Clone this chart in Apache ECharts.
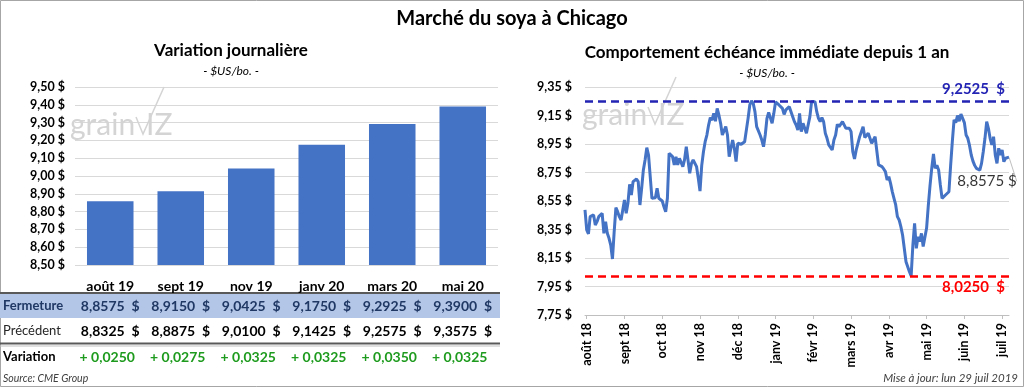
<!DOCTYPE html>
<html><head><meta charset="utf-8">
<script src="https://cdn.jsdelivr.net/npm/echarts@6/dist/echarts.min.js"></script>
<style>html,body{margin:0;padding:0;background:#fff}#c{width:1024px;height:387px}</style>
</head><body><div id="c"></div>
<script>
// ---- data ----
const contracts = ['août 19', 'sept 19', 'nov 19', 'janv 20', 'mars 20', 'mai 20'];
const fermeture = [8.8575, 8.9150, 9.0425, 9.1750, 9.2925, 9.3900];
const precedent = [8.8325, 8.8875, 9.0100, 9.1425, 9.2575, 9.3575];
const variation = [0.0250, 0.0275, 0.0325, 0.0325, 0.0350, 0.0325];
const monthTicks = ['août 18', 'sept 18', 'oct 18', 'nov 18', 'déc 18', 'janv 19', 'févr 19', 'mars 19', 'avr 19', 'mai 19', 'juin 19', 'juil 19'];
const dailyClose = [
  8.487, 8.347, 8.319, 8.440, 8.445, 8.452, 8.382, 8.405, 8.440, 8.452,
  8.464, 8.323, 8.405, 8.323, 8.288, 8.241, 8.143, 8.335, 8.503, 8.475,
  8.440, 8.417, 8.487, 8.557, 8.464, 8.534, 8.667, 8.592, 8.686, 8.697,
  8.704, 8.686, 8.522, 8.639, 8.768, 8.838, 8.924, 8.873, 8.861, 8.569,
  8.564, 8.573, 8.639, 8.569, 8.580, 8.550, 8.510, 8.475, 8.569, 8.885,
  8.873, 8.861, 8.803, 8.861, 8.803, 8.849, 8.861, 8.791, 8.840, 8.931,
  8.838, 8.744, 8.814, 8.838, 8.826, 8.791, 8.709, 8.620, 8.800, 8.896,
  8.966, 9.013, 9.083, 9.135, 9.118, 9.165, 9.110, 9.200, 9.154, 9.095,
  9.013, 9.001, 9.072, 9.013, 8.861, 8.920, 8.978, 8.920, 8.826, 8.955,
  8.955, 8.948, 8.962, 8.966, 8.955, 9.130, 9.224, 9.2525, 9.235, 9.177,
  9.072, 9.060, 9.013, 8.978, 8.931, 9.013, 9.130, 9.172, 9.165, 9.095,
  9.165, 9.245, 9.2525, 9.224, 9.212, 9.200, 9.158, 9.189, 9.200, 9.212,
  9.219, 9.142, 9.107, 9.083, 9.048, 9.165, 9.037, 9.095, 9.060, 9.025,
  9.013, 9.142, 9.247, 9.2525, 9.247, 9.177, 9.130, 9.107, 9.135, 9.107,
  9.025, 8.990, 8.943, 8.931, 8.908, 8.978, 9.013, 9.088, 9.072, 9.060,
  9.107, 9.111, 9.060, 9.072, 9.060, 9.037, 8.896, 8.845, 8.908, 8.955,
  9.001, 9.013, 9.072, 8.995, 8.990, 9.025, 8.990, 8.955, 8.966, 9.001,
  8.990, 8.803, 8.798, 8.791, 8.775, 8.756, 8.697, 8.721, 8.674, 8.616,
  8.569, 8.522, 8.440, 8.417, 8.370, 8.311, 8.300, 8.124, 8.089, 8.054,
  8.025, 8.241, 8.393, 8.218, 8.300, 8.265, 8.323, 8.230, 8.220, 8.360,
  8.520, 8.660, 8.780, 8.880, 8.779, 8.800, 8.768, 8.663, 8.569, 8.569,
  8.592, 8.592, 8.615, 8.800, 8.970, 9.120, 9.100, 9.150, 9.110, 9.160,
  9.130, 9.100, 9.013, 8.990, 8.940, 8.873, 8.830, 8.800, 8.779, 8.770,
  8.767, 8.814, 8.896, 8.990, 9.107, 9.060, 8.990, 8.943, 9.001, 8.873,
  8.814, 8.920, 8.873, 8.908, 8.826, 8.850, 8.861, 8.8575
];
const TICK_EVERY = 22, TICK_FIRST = 1;

// ---- helpers ----
const FONT = 'Lato, "Open Sans", sans-serif';
const fmt2 = v => v.toFixed(2).replace('.', ',') + ' $';
const fmt4 = v => Number(v).toFixed(4).replace('.', ',') + '  $';
const fmtVar = v => '+ ' + v.toFixed(4).replace('.', ',');
const days = dailyClose.map((_, i) => String(i));
const tickShown = (i) => i >= TICK_FIRST && (i - TICK_FIRST) % TICK_EVERY === 0;
const lastIdx = dailyClose.length - 1;

const chart = echarts.init(document.getElementById('c'));
chart.setOption({
  animation: false,
  backgroundColor: '#fff',
  textStyle: { fontFamily: FONT },
  grid: [
    { left: 75, right: 526, top: 87, bottom: 122 },
    { left: 585, right: 15, top: 87, bottom: 72 }
  ],
  xAxis: [
    { type: 'category', gridIndex: 0, data: contracts,
      axisLine: { show: false }, axisTick: { show: false },
      axisLabel: { margin: 14, fontWeight: 'bold', fontSize: 14, color: '#000', fontFamily: FONT } },
    { type: 'category', gridIndex: 1, data: days, boundaryGap: false,
      axisLine: { lineStyle: { color: '#bfbfbf', width: 1 } },
      axisTick: { show: true, interval: tickShown, length: 4, lineStyle: { color: '#bfbfbf' } },
      axisLabel: { interval: tickShown, rotate: 90, margin: 8, fontWeight: 'bold', fontSize: 12.5, color: '#000', fontFamily: FONT,
        formatter: (v, i) => monthTicks[(i - TICK_FIRST) / TICK_EVERY] } }
  ],
  yAxis: [
    { type: 'value', gridIndex: 0, min: 8.5, max: 9.5, interval: 0.1,
      axisLine: { show: false }, axisTick: { show: false },
      axisLabel: { formatter: fmt2, fontWeight: 'bold', fontSize: 12.5, color: '#000', margin: 10, fontFamily: FONT },
      splitLine: { lineStyle: { color: '#d9d9d9' } } },
    { type: 'value', gridIndex: 1, min: 7.75, max: 9.35, interval: 0.2,
      axisLine: { show: false }, axisTick: { show: false },
      axisLabel: { formatter: fmt2, fontWeight: 'bold', fontSize: 12.5, color: '#000', margin: 13, fontFamily: FONT },
      splitLine: { lineStyle: { color: '#d9d9d9' } } }
  ],
  series: [
    { type: 'bar', xAxisIndex: 0, yAxisIndex: 0, data: fermeture, barWidth: '66%',
      itemStyle: { color: '#4472C4' } },
    { type: 'line', xAxisIndex: 1, yAxisIndex: 1, data: dailyClose, showSymbol: false,
      lineStyle: { color: '#4472C4', width: 3 }, z: 3,
      markLine: { silent: true, symbol: ['none', 'none'], precision: 4,
        data: [
          { type: 'max', lineStyle: { color: '#2323b4', type: [8, 5], width: 2.5 },
            label: { position: 'insideEndTop', formatter: p => fmt4(p.value), color: '#2323b4', fontWeight: 'bold', fontSize: 15, fontFamily: FONT, distance: 4 } },
          { type: 'min', lineStyle: { color: '#ff0000', type: [8, 5], width: 2.5 },
            label: { position: 'insideEndBottom', formatter: p => fmt4(p.value), color: '#ff0000', fontWeight: 'bold', fontSize: 15, fontFamily: FONT, distance: 4 } }
        ] } },
    { type: 'scatter', xAxisIndex: 1, yAxisIndex: 1, symbolSize: 1, itemStyle: { color: 'rgba(0,0,0,0)' },
      data: [[lastIdx, dailyClose[lastIdx]]], z: 4,
      label: { show: true, position: 'inside', formatter: p => p.value[1].toFixed(4).replace('.', ',') + ' $',
        color: '#000', fontSize: 15, fontFamily: FONT },
      labelLayout: { dx: -22, dy: 24 },
      labelLine: { show: true, lineStyle: { color: '#bfbfbf', width: 1 } } }
  ]
});

// ---- table, titles, footers ----
const cx = contracts.map((c, i) => chart.convertToPixel({ xAxisIndex: 0 }, i));
const g = [];
const txt = (text, x, y, font, fill, align) => g.push({ type: 'text', x, y, silent: true,
  style: { text, font, fill, textAlign: align || 'center', textVerticalAlign: 'middle' } });
// outer border
g.push({ type: 'rect', shape: { x: 0.5, y: 0.5, width: 1023, height: 386 }, style: { fill: 'none', stroke: '#a6a6a6', lineWidth: 1 } });
// titles
txt('Marché du soya à Chicago', 512, 19, 'bold 20px ' + FONT, '#000');
txt('Variation journalière', 231, 51, 'bold 17px ' + FONT, '#000');
txt('- $US/bo. -', 231, 71, 'italic 12px ' + FONT, '#000');
txt('Comportement échéance immédiate depuis 1 an', 767, 53, 'bold 17px ' + FONT, '#000');
txt('- $US/bo. -', 767, 73, 'italic 12px ' + FONT, '#000');
// watermarks
[[70, 125], [582, 115]].forEach(([wx, wy]) => {
  txt('grain', wx, wy, '30px ' + FONT, '#d4d4d4', 'left');
  g.push({ type: 'polyline', silent: true, shape: { points: [[wx + 66, wy - 8], [wx + 73, wy + 9], [wx + 94, wy - 38]] },
    style: { stroke: '#d4d4d4', lineWidth: 1.5, fill: 'none' } });
  txt('IZ', wx + 76, wy, '30px ' + FONT, '#d4d4d4', 'left');
});
// table
g.push({ type: 'rect', shape: { x: 0, y: 293, width: 500, height: 25 }, style: { fill: '#B4C6E7' } });
g.push({ type: 'line', shape: { x1: 0, y1: 293, x2: 500, y2: 293 }, style: { stroke: '#595959', lineWidth: 2 } });
g.push({ type: 'line', shape: { x1: 0, y1: 343.5, x2: 500, y2: 343.5 }, style: { stroke: '#595959', lineWidth: 2 } });
g.push({ type: 'line', shape: { x1: 0, y1: 346, x2: 500, y2: 346 }, style: { stroke: '#bfbfbf', lineWidth: 1 } });
txt('Fermeture', 3, 306, 'bold 13px ' + FONT, '#1F3864', 'left');
txt('Précédent', 3, 331, '13px ' + FONT, '#262626', 'left');
txt('Variation', 3, 357, 'bold 13px ' + FONT, '#000', 'left');
cx.forEach((x, i) => {
  txt(fmt4(fermeture[i]), x, 306, 'bold 14px ' + FONT, '#1F3864');
  txt(fmt4(precedent[i]), x, 331, 'bold 14px ' + FONT, '#000');
  txt(fmtVar(variation[i]), x - 3, 357, 'bold 14px ' + FONT, '#1E9B1E');
});
txt('Source: CME Group', 3, 379, 'italic 10.5px ' + FONT, '#404040', 'left');
txt('Mise à jour: lun 29 juil 2019', 1018, 378, 'italic 11.5px ' + FONT, '#404040', 'right');
chart.setOption({ graphic: g });
</script></body></html>
